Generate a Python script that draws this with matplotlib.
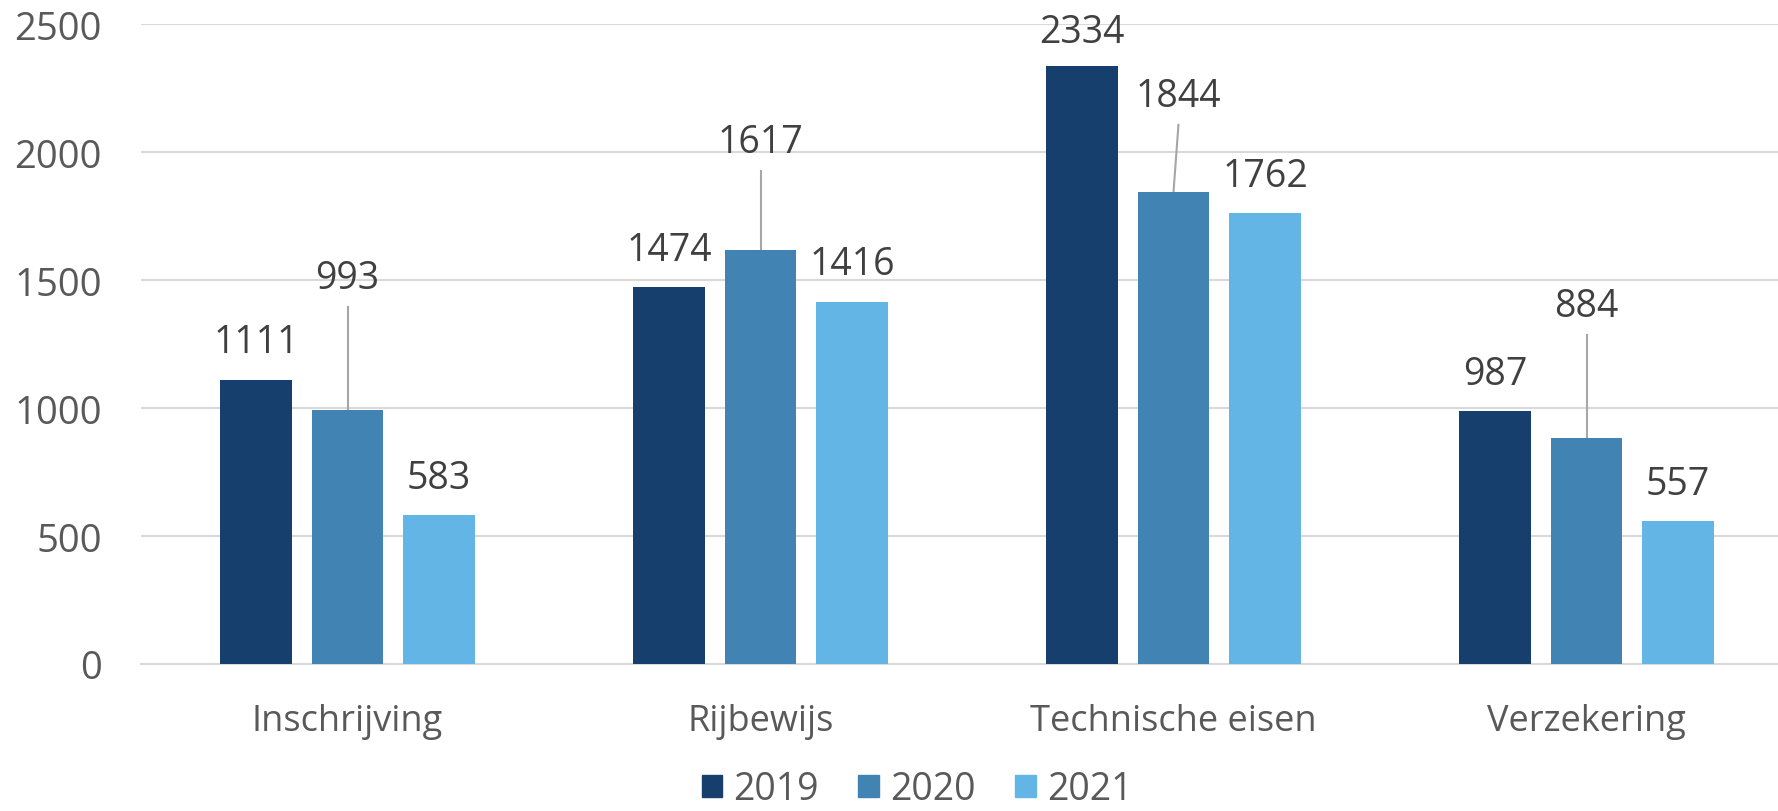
import numpy as np
import matplotlib.pyplot as plt
from matplotlib.patches import Patch

# Gegevens
categorieen = ['Inschrijving', 'Rijbewijs', 'Technische eisen', 'Verzekering']
jaren = ['2019', '2020', '2021']
waarden_2019 = [1111, 1474, 2334, 987]
waarden_2020 = [993, 1617, 1844, 884]
waarden_2021 = [583, 1416, 1762, 557]

kleuren = ['#173F6E', '#4184B3', '#62B5E5']
tekst_kleur = '#404040'
as_kleur = '#595959'
grid_kleur = '#D9D9D9'

# labels van 2020 staan hoger (met een lijntje), verschuiving in y en x
label_extra_2020 = [515, 422, 375, 514]
label_dx_2020 = [0, 0, 0.012, 0]

plt.rcParams['font.family'] = ['Open Sans', 'DejaVu Sans']

fig = plt.figure(figsize=(17.78, 8.12), dpi=100)
ax = fig.add_axes([141 / 1778, 147 / 812, 1652 / 1778, 640 / 812])

x = np.arange(len(categorieen))
breedte = 0.174
stap = 0.2215
series = [waarden_2019, waarden_2020, waarden_2021]

for i, (vals, kleur) in enumerate(zip(series, kleuren)):
    pos = x + (i - 1) * stap
    ax.bar(pos, vals, width=breedte, color=kleur, zorder=3)
    for k, (p, v) in enumerate(zip(pos, vals)):
        if i == 1:
            ly = v + label_extra_2020[k]
            lx = p + label_dx_2020[k]
            ax.plot([p, lx], [v, ly - 113], color='#A6A6A6', lw=1.5, zorder=2)
            ax.text(lx, ly, str(v), ha='center', va='center', fontsize=27, color=tekst_kleur)
        else:
            # bovenste label zit tegen de rand van de grafiek aan
            ly = min(v + 145, 2470)
            ax.text(p, ly, str(v), ha='center', va='center', fontsize=27, color=tekst_kleur)

ax.set_xlim(-0.5, len(categorieen) - 0.5)
ax.set_ylim(0, 2500)
ax.set_yticks(np.arange(0, 2501, 500))
ax.set_xticks(x)
ax.set_xticklabels(categorieen)
ax.tick_params(axis='y', length=0, pad=28, labelsize=27.5, labelcolor=as_kleur)
ax.tick_params(axis='x', length=0, pad=28, labelsize=26, labelcolor=as_kleur)
ax.yaxis.grid(True, color=grid_kleur, lw=1.5, zorder=0)
for s in ['top', 'right', 'left']:
    ax.spines[s].set_visible(False)
ax.spines['bottom'].set_color(grid_kleur)
ax.spines['bottom'].set_linewidth(1.5)

handles = [Patch(color=k, label=j) for k, j in zip(kleuren, jaren)]
leg = fig.legend(handles=handles, loc='lower center', ncol=3, frameon=False,
                 fontsize=27, handlelength=0.55, handleheight=0.55,
                 handletextpad=0.3, columnspacing=1.05,
                 bbox_to_anchor=(0.5 + 28 / 1778, -0.038))
for t in leg.get_texts():
    t.set_color(as_kleur)

fig.savefig('out.png', dpi=100)
